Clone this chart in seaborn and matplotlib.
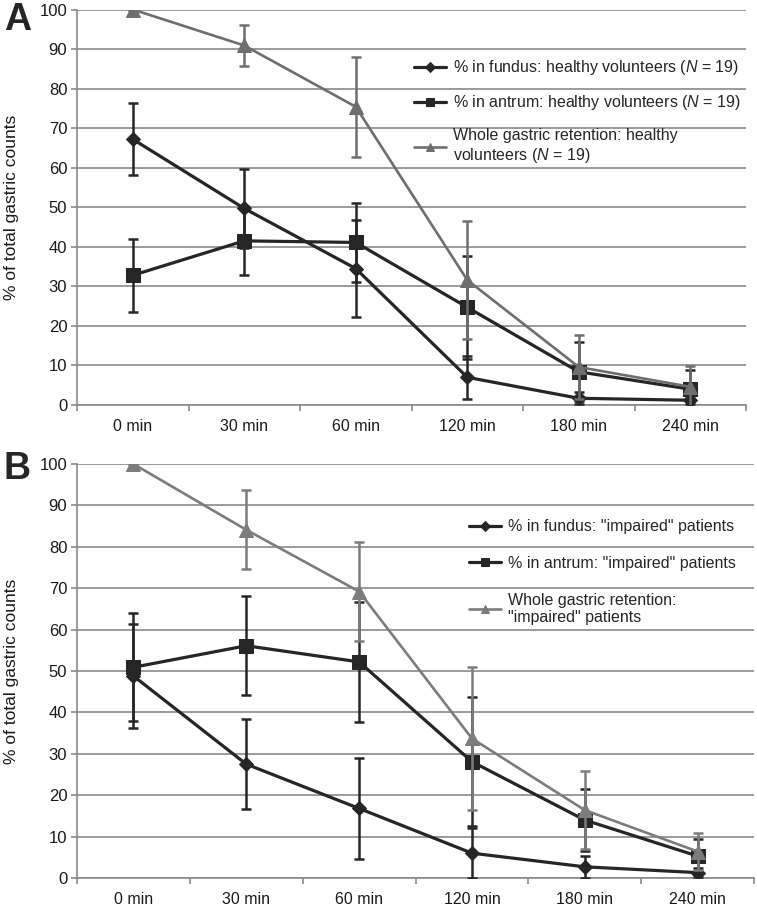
import matplotlib
matplotlib.use("Agg")
import matplotlib.pyplot as plt
import pandas as pd
import seaborn as sns

# x categories
times = ["0 min", "30 min", "60 min", "120 min", "180 min", "240 min"]

# Panel A: healthy volunteers (mean, error)
fundus_a = [67.2, 49.7, 34.5, 7.0, 1.7, 1.2]
fundus_a_err = [9.1, 10.0, 12.2, 5.5, 1.5, 1.0]
antrum_a = [32.8, 41.5, 41.1, 24.7, 8.4, 4.0]
antrum_a_err = [9.2, 8.7, 10.0, 13.0, 7.5, 4.8]
whole_a = [100.0, 90.9, 75.4, 31.6, 9.6, 4.6]
whole_a_err = [0.0, 5.3, 12.7, 14.9, 8.0, 5.3]

# Panel B: "impaired" patients (mean, error)
fundus_b = [48.8, 27.5, 16.8, 6.0, 2.7, 1.3]
fundus_b_err = [12.6, 10.8, 12.3, 6.0, 2.6, 1.0]
antrum_b = [50.9, 56.1, 52.2, 28.1, 14.0, 5.3]
antrum_b_err = [13.0, 12.0, 14.4, 15.5, 7.5, 4.0]
whole_b = [100.0, 84.1, 69.2, 33.7, 16.4, 6.4]
whole_b_err = [0.0, 9.5, 12.0, 17.2, 9.5, 4.4]

labels_a = ["% in fundus: healthy volunteers ($\\it{N}$ = 19)",
            "% in antrum: healthy volunteers ($\\it{N}$ = 19)",
            "Whole gastric retention: healthy\nvolunteers ($\\it{N}$ = 19)"]
labels_b = ['% in fundus: "impaired" patients',
            '% in antrum: "impaired" patients',
            'Whole gastric retention:\n"impaired" patients']

sns.set_style("white")
plt.rcParams["font.family"] = ["Liberation Sans", "DejaVu Sans"]
plt.rcParams["mathtext.fontset"] = "custom"
plt.rcParams["mathtext.it"] = "Liberation Sans:italic"
plt.rcParams["mathtext.rm"] = "Liberation Sans"

DARK = "#262626"
GRID = "#8a8a8a"


def draw_panel(ax, series, labels, gray, legend_anchor, spacing):
    rows = []
    for lab, (vals, errs) in zip(labels, series):
        for i, (v, e) in enumerate(zip(vals, errs)):
            rows.append({"pos": i, "value": v, "err": e, "series": lab})
    df = pd.DataFrame(rows)

    palette = {labels[0]: DARK, labels[1]: DARK, labels[2]: gray}
    markers = {labels[0]: "D", labels[1]: "s", labels[2]: "^"}
    sizes = {labels[0]: 7.5, labels[1]: 9.5, labels[2]: 10}
    widths = {labels[0]: 2.3, labels[1]: 2.3, labels[2]: 1.9}

    for z, lab in enumerate(labels):
        sub = df[df["series"] == lab]
        ax.errorbar(sub["pos"], sub["value"], yerr=sub["err"], fmt="none",
                    ecolor=palette[lab], elinewidth=1.8, capsize=3.5,
                    capthick=1.8, zorder=3 + z)
        sns.lineplot(data=sub, x="pos", y="value", ax=ax, color=palette[lab],
                     marker=markers[lab], markersize=sizes[lab],
                     markeredgecolor=palette[lab], linewidth=widths[lab],
                     label=lab, zorder=3 + z, errorbar=None)

    handles, labs = ax.get_legend_handles_labels()
    leg = ax.legend(handles, labs, loc="upper left", bbox_to_anchor=legend_anchor,
                    frameon=False, fontsize=11.5, handlelength=2.0,
                    handletextpad=0.45, labelspacing=spacing, markerscale=0.62,
                    borderpad=0.2)
    leg.set_zorder(10)

    ax.set_xlim(-0.5, len(times) - 0.5)
    ax.set_ylim(0, 100)
    ax.set_xticks(range(len(times)))
    ax.set_xticklabels(times)
    ax.set_xticks([i - 0.5 for i in range(len(times) + 1)], minor=True)
    ax.set_yticks(range(0, 101, 10))
    ax.tick_params(axis="x", which="major", length=0, pad=10, labelsize=11.5,
                   colors="#1a1a1a")
    ax.tick_params(axis="x", which="minor", length=4, width=1.2, color=GRID,
                   direction="out", bottom=True)
    ax.tick_params(axis="y", length=4, width=1.2, color=GRID, pad=3,
                   labelsize=12, left=True, labelcolor="#1a1a1a")
    ax.yaxis.grid(True, color=GRID, linewidth=1.2)
    ax.set_axisbelow(True)
    for side in ["top", "right"]:
        ax.spines[side].set_visible(False)
    for side in ["left", "bottom"]:
        ax.spines[side].set_color(GRID)
        ax.spines[side].set_linewidth(1.2)
    ax.set_xlabel("")
    ax.set_ylabel("% of total gastric counts", fontsize=12.5, color="#1a1a1a")
    ax.yaxis.set_label_coords(-58 / ax.get_position().width / 757, 0.5)


fig = plt.figure(figsize=(7.57, 9.07), dpi=100)
ax_a = fig.add_axes([77 / 757, 1 - 405 / 907, 669 / 757, 395.5 / 907])
ax_b = fig.add_axes([77 / 757, 1 - 878 / 907, 677 / 757, 414 / 907])

draw_panel(ax_a,
           [(fundus_a, fundus_a_err), (antrum_a, antrum_a_err), (whole_a, whole_a_err)],
           labels_a, "#6e6e6e", (0.487, 0.905), 1.0)
draw_panel(ax_b,
           [(fundus_b, fundus_b_err), (antrum_b, antrum_b_err), (whole_b, whole_b_err)],
           labels_b, "#7c7c7c", (0.563, 0.893), 1.35)

fig.text(4 / 757, 1 - 20 / 907, "A", fontsize=27, fontweight="bold", va="center")
fig.text(3 / 757, 1 - 469 / 907, "B", fontsize=27, fontweight="bold", va="center")

fig.savefig("out.png", dpi=100)
